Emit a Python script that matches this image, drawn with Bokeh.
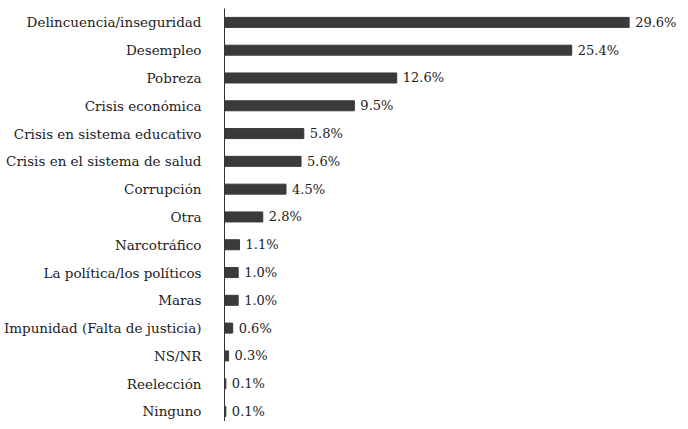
from bokeh.plotting import figure
from bokeh.models import Range1d, FixedTicker, ColumnDataSource
from bokeh.core.properties import value
from bokeh.embed import file_html
from bokeh.resources import INLINE

categories = ["Delincuencia/inseguridad", "Desempleo", "Pobreza", "Crisis económica",
              "Crisis en sistema educativo", "Crisis en el sistema de salud", "Corrupción",
              "Otra", "Narcotráfico", "La política/los políticos", "Maras",
              "Impunidad (Falta de justicia)", "NS/NR", "Reelección", "Ninguno"]
values = [29.6, 25.4, 12.6, 9.5, 5.8, 5.6, 4.5, 2.8, 1.1, 1.0, 1.0, 0.6, 0.3, 0.1, 0.1]
labels = [f"{v:.1f}%" for v in values]

ypos = list(range(len(categories)))
src = ColumnDataSource(dict(y=ypos, v=values, lab=labels))

FONT = "DejaVu Serif"
p = figure(width=680, height=421, output_backend="svg", toolbar_location=None,
           x_range=Range1d(0, 457 / 13.7), y_range=Range1d(14.36, -0.5),
           min_border_left=223, min_border_right=0, min_border_top=8, min_border_bottom=0)
p.hbar(y="y", left=0, right="v", height=0.36, source=src, color="#3a3a3a")
p.text(x="v", y="y", text="lab", source=src, x_offset=6, text_baseline="middle",
       text_align="left", text_font=value(FONT), text_font_size="13px",
       text_color="#222222")

p.xaxis.visible = False
p.xgrid.visible = False
p.ygrid.visible = False
p.outline_line_color = None
ax = p.yaxis[0]
ax.ticker = FixedTicker(ticks=ypos)
ax.major_label_overrides = {i: c for i, c in enumerate(categories)}
ax.major_tick_line_color = None
ax.minor_tick_line_color = None
ax.axis_line_color = "#333333"
ax.axis_line_width = 1
ax.major_label_standoff = 17
ax.major_label_text_font = FONT
ax.major_label_text_font_size = "13.5px"
ax.major_label_text_color = "#222222"

open("out.html", "w").write(file_html(p, INLINE))
